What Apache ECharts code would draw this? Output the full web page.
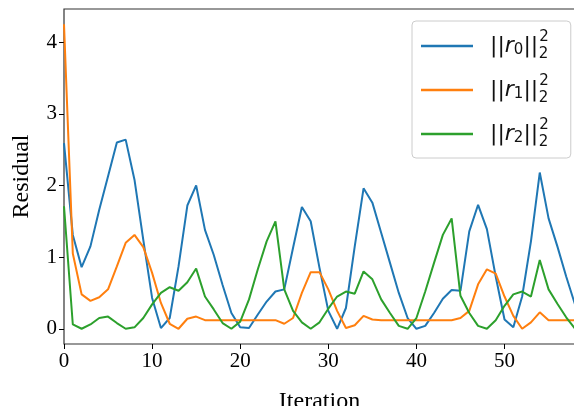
<!DOCTYPE html>
<html>
<head>
<meta charset="utf-8">
<script src="https://cdn.jsdelivr.net/npm/echarts@6/dist/echarts.min.js"></script>
<style>
  html, body { margin: 0; padding: 0; background: #fff; }
  #chart { width: 574px; height: 406px; }
</style>
</head>
<body>
<div id="chart"></div>
<script>
// iterations 0..58
const iterations = Array.from({ length: 59 }, (_, i) => i)

const r0 = [2.59, 1.31, 0.86, 1.15, 1.66, 2.13, 2.60, 2.64, 2.08, 1.24,
  0.43, 0.01, 0.15, 0.87, 1.72, 2.00, 1.38, 1.03, 0.61, 0.22,
  0.02, 0.01, 0.20, 0.38, 0.52, 0.55, 1.13, 1.70, 1.50, 0.85,
  0.25, 0.00, 0.29, 1.15, 1.96, 1.76, 1.34, 0.92, 0.50, 0.15,
  0.00, 0.04, 0.22, 0.42, 0.54, 0.53, 1.36, 1.73, 1.39, 0.73,
  0.13, 0.02, 0.45, 1.22, 2.18, 1.54, 1.15, 0.73, 0.34]

const r1 = [4.25, 1.05, 0.48, 0.39, 0.44, 0.55, 0.87, 1.20, 1.31, 1.14,
  0.78, 0.36, 0.07, 0.00, 0.14, 0.17, 0.12, 0.12, 0.12, 0.12,
  0.12, 0.12, 0.12, 0.12, 0.12, 0.07, 0.15, 0.50, 0.79, 0.79,
  0.55, 0.25, 0.01, 0.05, 0.18, 0.13, 0.12, 0.12, 0.12, 0.12,
  0.12, 0.12, 0.12, 0.12, 0.12, 0.15, 0.25, 0.62, 0.83, 0.77,
  0.45, 0.18, 0.00, 0.09, 0.23, 0.12, 0.12, 0.12, 0.12]

const r2 = [1.71, 0.06, 0.00, 0.06, 0.15, 0.17, 0.08, 0.00, 0.02, 0.15,
  0.34, 0.50, 0.58, 0.53, 0.65, 0.84, 0.45, 0.27, 0.08, 0.00,
  0.10, 0.41, 0.83, 1.22, 1.50, 0.55, 0.25, 0.09, 0.00, 0.09,
  0.28, 0.45, 0.52, 0.49, 0.80, 0.69, 0.41, 0.22, 0.04, 0.00,
  0.15, 0.52, 0.92, 1.31, 1.54, 0.46, 0.22, 0.04, 0.00, 0.12,
  0.32, 0.48, 0.52, 0.45, 0.96, 0.55, 0.35, 0.16, 0.00]

const xTicks = [0, 10, 20, 30, 40, 50]
const yTicks = [0, 1, 2, 3, 4]

const seriesNames = ['r0', 'r1', 'r2']
const seriesColors = ['#1f77b4', '#ff7f0e', '#2ca02c']

const serif = '"Liberation Serif", "DejaVu Serif", serif'
const chart = echarts.init(document.getElementById('chart'))

const makeSeries = (name, values, color) => ({
  name,
  type: 'line',
  data: iterations.map((x, i) => [x, values[i]]),
  showSymbol: false,
  symbol: 'none',
  lineStyle: { color, width: 2 },
  itemStyle: { color },
})

const mathText = { fontFamily: 'DejaVu Sans', color: '#111' }

chart.setOption({
  animation: false,
  grid: {
    left: 64, right: -1, top: 9, bottom: 62,
    containLabel: false, outerBoundsMode: 'none',
    show: true, borderColor: '#333', borderWidth: 1.2,
  },
  legend: {
    left: 412, top: 21, orient: 'vertical',
    padding: [9, 22, 8, 9],
    itemWidth: 52, itemHeight: 2.5, itemGap: 12,
    icon: 'rect',
    backgroundColor: 'rgba(255,255,255,0.8)',
    borderColor: '#cccccc', borderWidth: 1, borderRadius: 4,
    data: seriesNames,
    formatter: name => `{n|||}{i|r}{sb|${name.slice(1)}}{n|||}{sp|2}{sb2|2}`,
    textStyle: {
      padding: [0, 0, 0, 12],
      rich: {
        n: { ...mathText, fontSize: 22, lineHeight: 32, verticalAlign: 'middle' },
        i: { ...mathText, fontStyle: 'italic', fontSize: 22, lineHeight: 32, verticalAlign: 'middle' },
        sb: { ...mathText, fontSize: 15, lineHeight: 15, verticalAlign: 'bottom', padding: [0, 0, 4, 0] },
        sp: { ...mathText, fontSize: 15, lineHeight: 15, verticalAlign: 'top', padding: [0, 0, 0, 1] },
        sb2: { ...mathText, fontSize: 15, lineHeight: 15, verticalAlign: 'bottom', padding: [0, 0, 0, -10] },
      },
    },
  },
  xAxis: {
    type: 'value', min: 0, max: 58,
    name: 'Iteration', nameLocation: 'middle', nameGap: 46,
    nameTextStyle: { fontFamily: serif, fontSize: 24, color: '#000' },
    splitLine: { show: false },
    axisLine: { show: false, onZero: false },
    axisTick: { show: true, length: 5, inside: false, customValues: xTicks, lineStyle: { color: '#000' } },
    axisLabel: { customValues: xTicks, fontFamily: serif, fontSize: 21, color: '#000', margin: 7 },
  },
  yAxis: {
    type: 'value', min: -0.2125, max: 4.4625,
    name: 'Residual', nameLocation: 'middle', nameGap: 30,
    nameTextStyle: { fontFamily: serif, fontSize: 24, color: '#000' },
    splitLine: { show: false },
    axisLine: { show: false, onZero: false },
    axisTick: { show: true, length: 5, inside: false, customValues: yTicks, lineStyle: { color: '#000' } },
    axisLabel: { customValues: yTicks, fontFamily: serif, fontSize: 21, color: '#000', margin: 7 },
  },
  series: [
    makeSeries('r0', r0, seriesColors[0]),
    makeSeries('r1', r1, seriesColors[1]),
    makeSeries('r2', r2, seriesColors[2]),
  ],
})
</script>
</body>
</html>
